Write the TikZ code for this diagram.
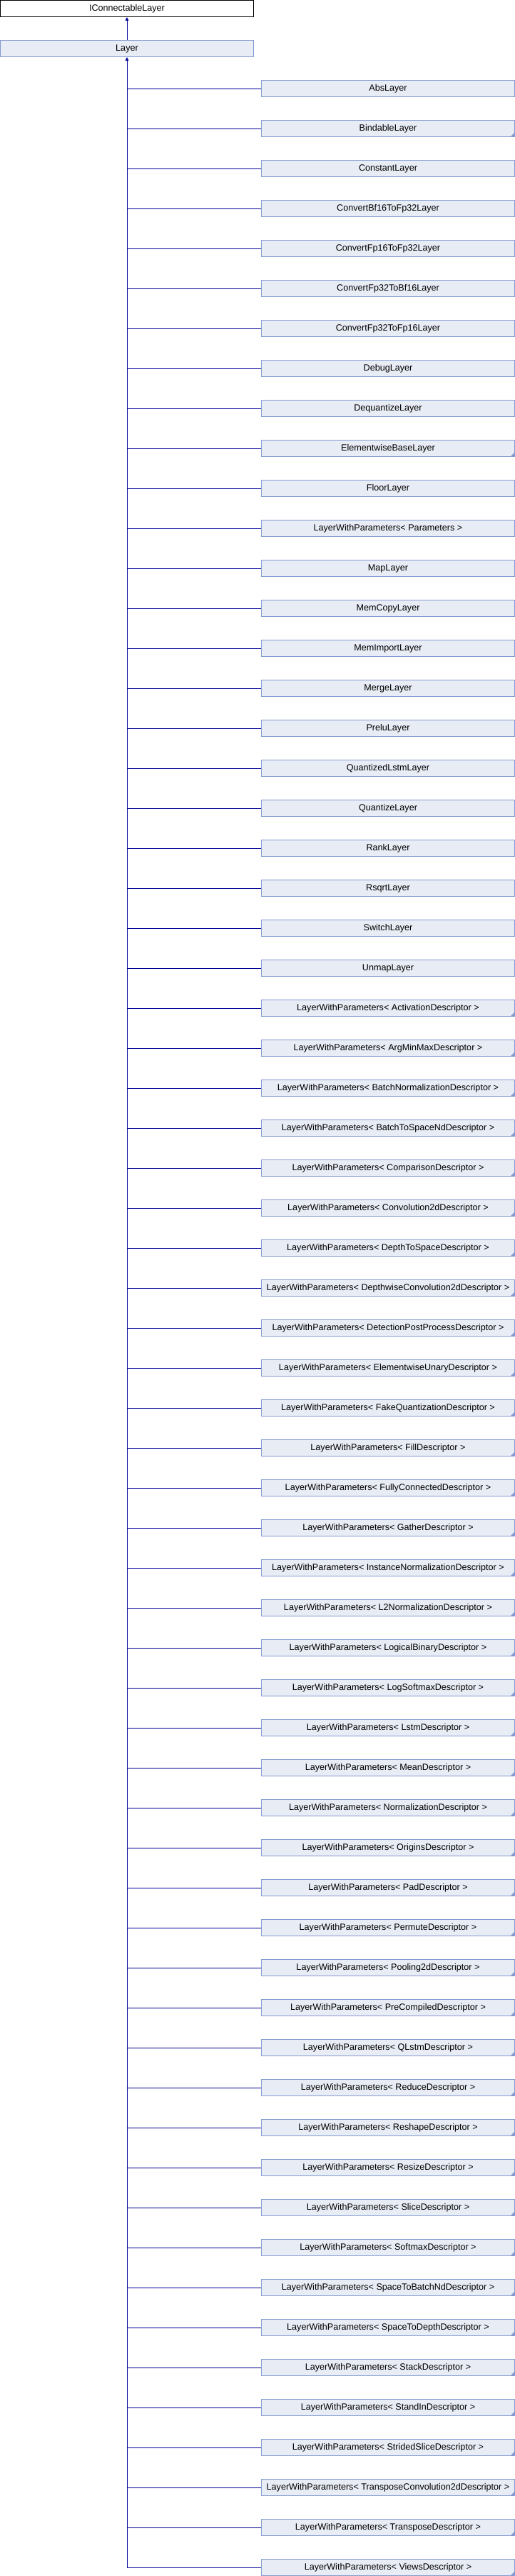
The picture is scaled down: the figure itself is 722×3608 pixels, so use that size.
\documentclass[tikz,border=0pt]{standalone}
\usepackage{fontspec}
\setmainfont{Liberation Sans}
\usetikzlibrary{arrows.meta}
\definecolor{boxfill}{RGB}{232,236,245}
\definecolor{boxline}{RGB}{132,154,208}
\definecolor{edgecol}{RGB}{0,0,150}
\tikzset{
  cls/.style={draw=boxline, fill=boxfill, line width=1pt, minimum width=355pt,
    minimum height=23pt, inner sep=0pt, font=\fontsize{12.6}{14}\selectfont, text=black},
  rootcls/.style={cls, draw=black, fill=white},
  plain/.style={},
  more/.style={path picture={\fill[boxline]
      ([xshift=-6pt]path picture bounding box.south east) --
      (path picture bounding box.south east) --
      ([yshift=6pt]path picture bounding box.south east) -- cycle;}},
  edge/.style={draw=edgecol, line width=1pt},
  inh/.style={edge, -{Triangle[length=5pt,width=4.5pt]}},
}
\begin{document}
\begin{tikzpicture}[x=1pt,y=-1pt]
\useasboundingbox (0,0) rectangle (722,3608);
\node[rootcls] (root) at (178,12) {IConnectableLayer};
\node[cls] (layer) at (178,68) {Layer};
\draw[inh] (layer.north) -- (root.south);
\foreach \n/\s [count=\i] in {
  AbsLayer/plain,
  BindableLayer/more,
  ConstantLayer/plain,
  ConvertBf16ToFp32Layer/plain,
  ConvertFp16ToFp32Layer/plain,
  ConvertFp32ToBf16Layer/plain,
  ConvertFp32ToFp16Layer/plain,
  DebugLayer/plain,
  DequantizeLayer/plain,
  ElementwiseBaseLayer/more,
  FloorLayer/plain,
  LayerWithParameters< Parameters >/plain,
  MapLayer/plain,
  MemCopyLayer/plain,
  MemImportLayer/plain,
  MergeLayer/plain,
  PreluLayer/plain,
  QuantizedLstmLayer/plain,
  QuantizeLayer/plain,
  RankLayer/plain,
  RsqrtLayer/plain,
  SwitchLayer/plain,
  UnmapLayer/plain,
  LayerWithParameters< ActivationDescriptor >/more,
  LayerWithParameters< ArgMinMaxDescriptor >/more,
  LayerWithParameters< BatchNormalizationDescriptor >/more,
  LayerWithParameters< BatchToSpaceNdDescriptor >/more,
  LayerWithParameters< ComparisonDescriptor >/more,
  LayerWithParameters< Convolution2dDescriptor >/more,
  LayerWithParameters< DepthToSpaceDescriptor >/more,
  LayerWithParameters< DepthwiseConvolution2dDescriptor >/more,
  LayerWithParameters< DetectionPostProcessDescriptor >/more,
  LayerWithParameters< ElementwiseUnaryDescriptor >/more,
  LayerWithParameters< FakeQuantizationDescriptor >/more,
  LayerWithParameters< FillDescriptor >/more,
  LayerWithParameters< FullyConnectedDescriptor >/more,
  LayerWithParameters< GatherDescriptor >/more,
  LayerWithParameters< InstanceNormalizationDescriptor >/more,
  LayerWithParameters< L2NormalizationDescriptor >/more,
  LayerWithParameters< LogicalBinaryDescriptor >/more,
  LayerWithParameters< LogSoftmaxDescriptor >/more,
  LayerWithParameters< LstmDescriptor >/more,
  LayerWithParameters< MeanDescriptor >/more,
  LayerWithParameters< NormalizationDescriptor >/more,
  LayerWithParameters< OriginsDescriptor >/more,
  LayerWithParameters< PadDescriptor >/more,
  LayerWithParameters< PermuteDescriptor >/more,
  LayerWithParameters< Pooling2dDescriptor >/more,
  LayerWithParameters< PreCompiledDescriptor >/more,
  LayerWithParameters< QLstmDescriptor >/more,
  LayerWithParameters< ReduceDescriptor >/more,
  LayerWithParameters< ReshapeDescriptor >/more,
  LayerWithParameters< ResizeDescriptor >/more,
  LayerWithParameters< SliceDescriptor >/more,
  LayerWithParameters< SoftmaxDescriptor >/more,
  LayerWithParameters< SpaceToBatchNdDescriptor >/more,
  LayerWithParameters< SpaceToDepthDescriptor >/more,
  LayerWithParameters< StackDescriptor >/more,
  LayerWithParameters< StandInDescriptor >/more,
  LayerWithParameters< StridedSliceDescriptor >/more,
  LayerWithParameters< TransposeConvolution2dDescriptor >/more,
  LayerWithParameters< TransposeDescriptor >/more,
  LayerWithParameters< ViewsDescriptor >/more}{
  \node[cls,\s] (c\i) at (544,{124+56*(\i-1)}) {\n};
  \draw[edge] (c\i.west) -- (layer.south |- c\i.west);
}
\draw[inh] (layer.south |- c63.west) -- (layer.south);
\end{tikzpicture}
\end{document}
